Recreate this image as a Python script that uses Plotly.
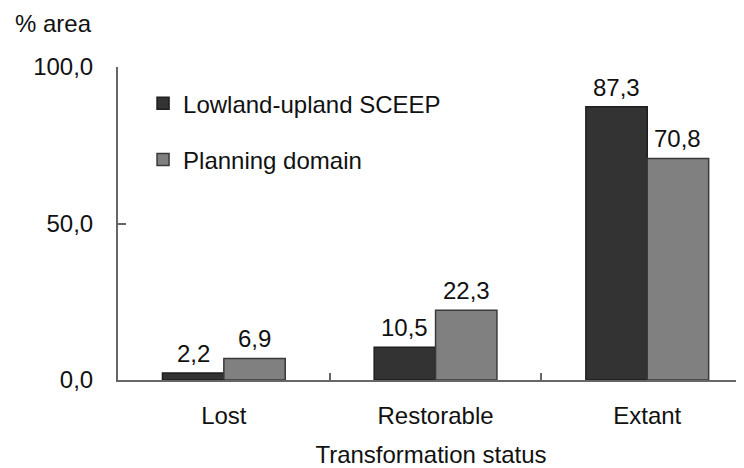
import plotly.graph_objects as go

categories = ["Lost", "Restorable", "Extant"]
series_names = ["Lowland-upland SCEEP", "Planning domain"]
sceep_values = [2.2, 10.5, 87.3]
planning_values = [6.9, 22.3, 70.8]
y_tick_vals = [0, 50, 100]

colors = ["#333333", "#808080"]
outline = ["#1e1e1e", "#3a3a3a"]
FONT = "Liberation Sans, Arial, sans-serif"
FS = 24

# page has an 8px body margin; size the figure so it fits the 744x468 window
W, H = 736, 460
ml, mr, mt, mb = 110, 0, 59, 88
bargap = 0.42
x_range = [-0.5, 2.457]

fig = go.Figure()
for i, (name, vals) in enumerate(zip(series_names, [sceep_values, planning_values])):
    fig.add_trace(go.Bar(
        x=categories, y=vals, name=name,
        marker=dict(color=colors[i], line=dict(color=outline[i], width=1.5)),
        legendgroup=f"g{i}",
    ))

# value labels above bars
plot_w = W - ml - mr
plot_h = H - mt - mb
px_per_cat = plot_w / (x_range[1] - x_range[0])
bar_px = px_per_cat * (1 - bargap) / 2
for i, vals in enumerate([sceep_values, planning_values]):
    shift = (i - 0.5) * bar_px
    for c, v in zip(categories, vals):
        fig.add_annotation(
            x=c, y=v, xref="x", yref="y", text=f"{v:.1f}".replace(".", ","),
            showarrow=False, yanchor="bottom", xanchor="center", xshift=shift, yshift=4,
            font=dict(family=FONT, size=FS, color="#111"),
        )

fig.add_annotation(
    xref="paper", yref="paper", x=-105 / plot_w, y=1 + 43 / plot_h,
    text="% area", showarrow=False, xanchor="left", yanchor="middle",
    font=dict(family=FONT, size=FS, color="#111"),
)

fig.update_layout(
    width=W, height=H,
    margin=dict(l=ml, r=mr, t=mt, b=mb, pad=0),
    paper_bgcolor="white", plot_bgcolor="white",
    barmode="group", bargap=bargap, bargroupgap=0,
    separators=",.",
    font=dict(family=FONT, size=FS, color="#111"),
    showlegend=True,
    legend=dict(
        x=0.040, y=0.955, xanchor="left", yanchor="top",
        bgcolor="rgba(0,0,0,0)", tracegroupgap=22,
        font=dict(family=FONT, size=FS, color="#111"),
    ),
    xaxis=dict(
        range=x_range, showline=True, linecolor="#666", linewidth=2,
        ticks="inside", tickson="boundaries", ticklen=7, tickcolor="#666", tickwidth=2,
        showgrid=False, zeroline=False, ticklabelstandoff=13, automargin=False,
        title=dict(text="Transformation status", standoff=19,
                   font=dict(family=FONT, size=FS, color="#111")),
        tickfont=dict(family=FONT, size=FS, color="#111"),
    ),
    yaxis=dict(
        range=[0, 100], tickvals=y_tick_vals, tickformat=".1f",
        showline=True, linecolor="#666", linewidth=2,
        ticks="inside", ticklen=8, tickcolor="#666", tickwidth=2,
        showgrid=False, zeroline=False, ticklabelstandoff=18, automargin=False,
        tickfont=dict(family=FONT, size=FS, color="#111"),
    ),
)

fig.write_html("out.html")
